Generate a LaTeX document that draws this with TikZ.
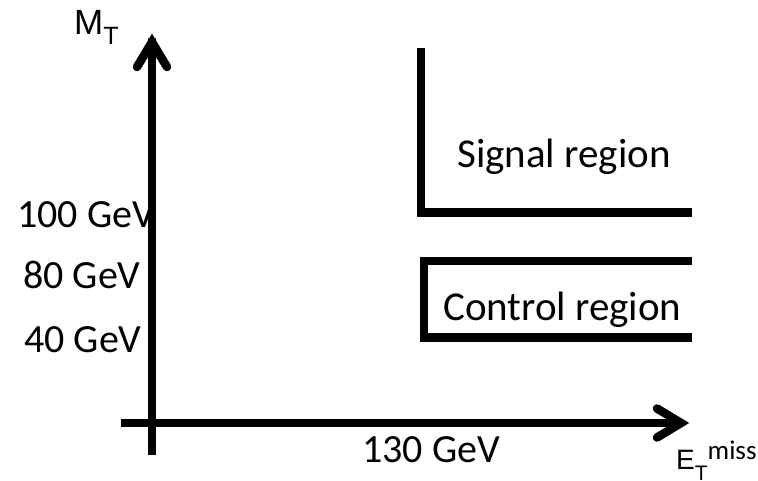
\documentclass[tikz,border=0pt]{standalone}
\usepackage{fontspec}
\setmainfont{Carlito}
\newfontfamily\arialf{Liberation Sans}
\begin{document}
\begin{tikzpicture}[x=1pt,y=-1pt,
  axisline/.style={line width=8.5pt},
  chev/.style={line width=8.5pt, line cap=round, line join=miter},
  bracket/.style={line width=8.5pt, line join=miter},
  lbl/.style={anchor=base west, inner sep=0pt, font=\fontsize{40}{48}\selectfont},
  reg/.style={anchor=base west, inner sep=0pt, font=\fontsize{41}{49}\selectfont}]
\useasboundingbox (0,0) rectangle (758,481);
% value labels
\node[lbl] (l100) at (17,228) {100 GeV};
\node[lbl] (l80) at (23,288) {80 GeV};
\node[lbl] (l40) at (24,352) {40 GeV};
\node[lbl] (l130) at (362,462) {130 GeV};
% region labels
\node[reg] (sig) at (457,168) {Signal region};
\node[reg] (ctl) at (443,320) {Control region};
% axis titles
\node[anchor=base west, inner sep=0pt] (mt) at (74,35)
  {\arialf\fontsize{35}{42}\selectfont M\raisebox{-10pt}{\fontsize{25}{30}\selectfont T}};
\node[anchor=base west, inner sep=0pt] (et) at (676,469)
  {\arialf\fontsize{28}{33}\selectfont E\raisebox{-11pt}{\fontsize{21}{25}\selectfont T}\raisebox{10pt}{\normalfont\fontsize{27}{32}\selectfont miss}};
% axes
\coordinate (yo) at (152,455);
\coordinate (yt) at (152,42);
\coordinate (yl) at (137,67);
\coordinate (yr) at (167,67);
\coordinate (xo) at (121,423);
\coordinate (xt) at (681,423);
\coordinate (xu) at (657,408.5);
\coordinate (xd) at (657,437.5);
\draw[axisline] (yo) -- ([yshift=4pt]yt);
\draw[chev] (yl) -- (yt) -- (yr);
\draw[axisline] (xo) -- ([xshift=-4pt]xt);
\draw[chev] (xu) -- (xt) -- (xd);
% region brackets
\coordinate (s1) at (421,48);
\coordinate (s2) at (421,212.5);
\coordinate (s3) at (692,212.5);
\draw[bracket] (s1) -- (s2) -- (s3);
\coordinate (c1) at (692,261);
\coordinate (c2) at (424,261);
\coordinate (c3) at (424,337.5);
\coordinate (c4) at (692,337.5);
\draw[bracket] (c1) -- (c2) -- (c3) -- (c4);
\end{tikzpicture}
\end{document}
